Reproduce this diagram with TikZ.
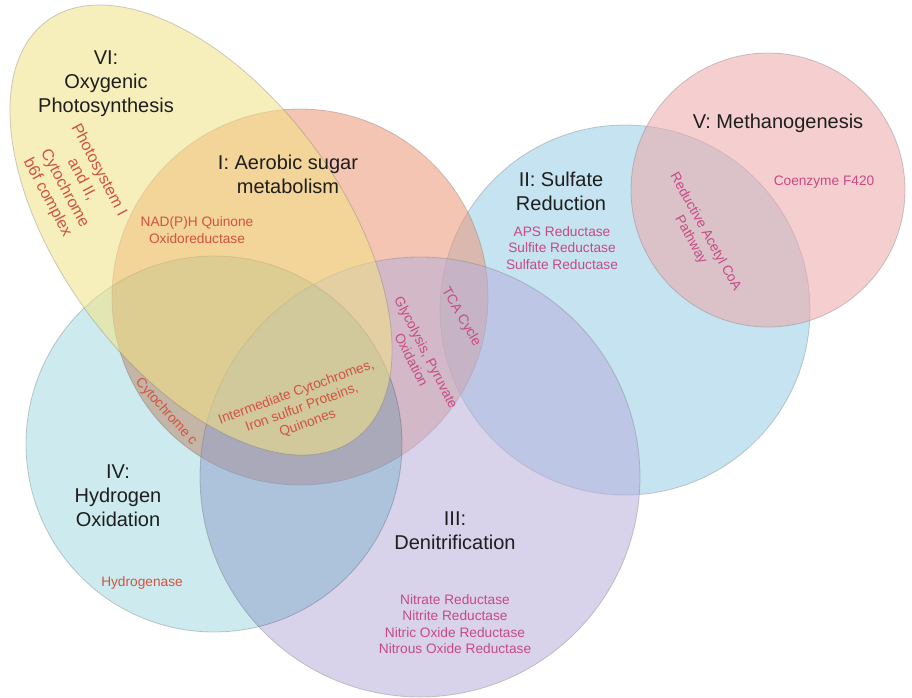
\documentclass[tikz,border=0pt]{standalone}
\usepackage{fontspec}
\setmainfont{Liberation Sans}

% fill colours of the six sets (drawn semi-transparent)
\definecolor{yelbase}{RGB}{242,226,132}
\definecolor{salbase}{RGB}{237,150,118}
\definecolor{blubase}{RGB}{150,204,228}
\definecolor{lavbase}{RGB}{184,175,219}
\definecolor{cyapure}{RGB}{205,235,238}
\definecolor{pnkbase}{RGB}{237,168,168}
% text colours
\definecolor{titlecol}{RGB}{30,30,30}
\definecolor{redtxt}{RGB}{208,84,64}
\definecolor{pinktxt}{RGB}{198,74,134}

\begin{document}
\begin{tikzpicture}[x=1pt,y=1pt,
  setshape/.style={fill opacity=0.55, draw=black!55, draw opacity=0.35, line width=0.8pt},
  title/.style={font=\fontsize{20}{24}\selectfont, text=titlecol, align=center, inner sep=0pt},
  enzred/.style={font=\fontsize{13.7}{16.5}\selectfont, text=redtxt, align=center, inner sep=0pt},
  enzpink/.style={font=\fontsize{13.7}{16.5}\selectfont, text=pinktxt, align=center, inner sep=0pt}]

\fill[white] (0,0) rectangle (912,-697);
\useasboundingbox (0,0) rectangle (912,-697);

% the six sets
\draw[setshape, fill=blubase] (625,-310) circle [radius=185];
\draw[setshape, fill=salbase] (300,-297) circle [radius=188];
\draw[setshape, fill=lavbase] (420,-477) circle [radius=220];
\begin{scope}[blend mode=multiply]
  \draw[setshape, fill=cyapure, fill opacity=1] (214,-444) circle [radius=188];
\end{scope}
\draw[setshape, fill=yelbase, rotate around={-53.6:(201,-230)}]
  (201,-230) ellipse [x radius=259.7, y radius=140.3];
\draw[setshape, fill=pnkbase] (768,-190) circle [radius=137];

% set titles
\node[title] (tVI) at (106,-84) {VI:\\Oxygenic\\Photosynthesis};
\node[title] (tI) at (288,-174.5) {I: Aerobic sugar\\metabolism};
\node[title] (tII) at (561,-191) {II: Sulfate\\Reduction};
\node[title] (tV) at (778,-123) {V: Methanogenesis};
\node[title] (tIV) at (118,-496) {IV:\\Hydrogen\\Oxidation};
\node[title] (tIII) at (455,-530.5) {III:\\Denitrification};

% enzymes and pathways
\node[enzred, font=\fontsize{16}{19.4}\selectfont, rotate=-62] (photo) at (73,-184)
  {Photosystem I\\and II,\\Cytochrome\\b6f complex};
\node[enzred] (nadph) at (197,-230) {NAD(P)H Quinone\\Oxidoreductase};
\node[enzpink, rotate=-63] (glyc) at (419,-356) {Glycolysis, Pyruvate\\Oxidation};
\node[enzpink, rotate=-60] (tca) at (461,-317) {TCA Cycle};
\node[enzpink] (aps) at (562,-248) {APS Reductase\\Sulfite Reductase\\Sulfate Reductase};
\node[enzpink, rotate=-61] (racoa) at (698,-236) {Reductive Acetyl CoA\\Pathway};
\node[enzpink] (f420) at (824,-182) {Coenzyme F420};
\node[enzred, rotate=-48] (cytc) at (166,-412) {Cytochrome c};
\node[enzred, rotate=20] (inter) at (302,-408)
  {Intermediate Cytochromes,\\Iron sulfur Proteins,\\Quinones};
\node[enzred] (hydase) at (142,-583) {Hydrogenase};
\node[enzpink] (nitr) at (455,-624)
  {Nitrate Reductase\\Nitrite Reductase\\Nitric Oxide Reductase\\Nitrous Oxide Reductase};

\end{tikzpicture}
\end{document}
